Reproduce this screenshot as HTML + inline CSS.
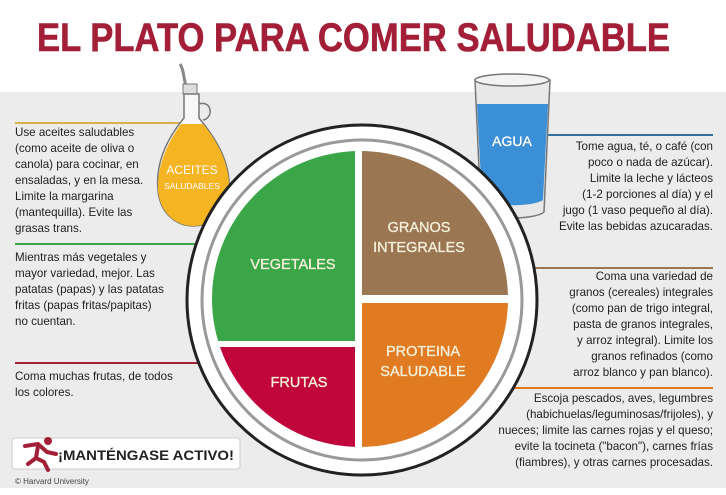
<!DOCTYPE html>
<html><head><meta charset="utf-8"><style>
html,body{margin:0;padding:0;background:#fff}
svg{display:block}
.t{font-family:"Liberation Sans",sans-serif;font-size:11.6px;fill:#1e1e1e}
.r{text-anchor:end}
.lab{font-family:"Liberation Sans",sans-serif;font-size:14.5px;fill:#f4efd8;text-anchor:middle;stroke:#f4efd8;stroke-width:0.35}
</style></head><body>
<svg width="726" height="495" viewBox="0 0 726 495" xmlns="http://www.w3.org/2000/svg">
<rect x="0" y="0" width="726" height="495" fill="#fff"/>
<rect x="0" y="92" width="726" height="396" fill="#ececec"/>
<text x="37" y="51" font-family="Liberation Sans, sans-serif" font-weight="bold" font-size="40" fill="#a31f38" stroke="#a31f38" stroke-width="0.6" textLength="633" lengthAdjust="spacingAndGlyphs">EL PLATO PARA COMER SALUDABLE</text>

<line x1="15" y1="123" x2="182" y2="123" stroke="#d6b24a" stroke-width="2"/>
<line x1="15" y1="244" x2="225" y2="244" stroke="#3aa648" stroke-width="2"/>
<line x1="15" y1="363" x2="225" y2="363" stroke="#a3223a" stroke-width="2"/>
<line x1="513" y1="135" x2="713" y2="135" stroke="#2f6e9e" stroke-width="2"/>
<line x1="500" y1="268" x2="713" y2="268" stroke="#9b7653" stroke-width="2"/>
<line x1="480" y1="388" x2="713" y2="388" stroke="#e07b22" stroke-width="2"/>

<path d="M186 86 C183 76 184 70 180 64" stroke="#888" stroke-width="3" fill="none"/>
<rect x="183" y="84" width="14" height="10" fill="#ddd" stroke="#777"/>
<path d="M184 94 L184 118 C170 135 155 160 158 190 C160 215 178 226 193 226 C210 226 228 213 229 190 C231 160 213 135 199 118 L199 94 Z" fill="#f8f8f8" stroke="#777" stroke-width="1.5"/>
<path d="M181 124 L203 124 C218 142 230 165 229 190 C228 213 210 226 193 226 C178 226 160 215 158 190 C157 165 168 142 181 124 Z" fill="#f5b522"/>
<path d="M199 104 C212 100 214 118 203 120" stroke="#777" stroke-width="1.5" fill="none"/>
<text x="192" y="174" font-family="Liberation Sans, sans-serif" font-size="12" fill="#fff" text-anchor="middle">ACEITES</text>
<text x="192" y="189" font-family="Liberation Sans, sans-serif" font-size="8.5" fill="#fff" text-anchor="middle">SALUDABLES</text>

<path d="M475 80 L481 212 C490 220 535 220 544 212 L550 80 Z" fill="#e8e8e8" stroke="#777" stroke-width="1.5"/>
<path d="M477 104 L482 200 C492 207 533 207 543 200 L548 104 Z" fill="#3b8fd6"/>
<ellipse cx="512" cy="80" rx="37" ry="6" fill="#f3f3f3" stroke="#777" stroke-width="1.5"/>
<text x="512" y="146" font-family="Liberation Sans, sans-serif" font-size="14" fill="#fff" text-anchor="middle" stroke="#fff" stroke-width="0.3">AGUA</text>

<circle cx="362" cy="300" r="175" fill="#fff" stroke="#222" stroke-width="3"/>
<circle cx="362" cy="300" r="160" fill="#fff" stroke="#999" stroke-width="3"/>
<clipPath id="c"><circle cx="360" cy="299" r="148"/></clipPath>
<g clip-path="url(#c)">
<rect x="200" y="140" width="155" height="201" fill="#3aa648"/>
<rect x="200" y="347" width="155" height="120" fill="#c0063a"/>
<rect x="362" y="140" width="160" height="155" fill="#9b7653"/>
<rect x="362" y="303" width="160" height="160" fill="#e07b22"/>
</g>
<text class="lab" x="293" y="269">VEGETALES</text>
<text class="lab" x="419" y="232">GRANOS</text>
<text class="lab" x="419" y="252">INTEGRALES</text>
<text class="lab" x="423" y="356">PROTEINA</text>
<text class="lab" x="423" y="376">SALUDABLE</text>
<text class="lab" x="299" y="387">FRUTAS</text>

<text class="t" x="15" y="136">Use aceites saludables</text>
<text class="t" x="15" y="152">(como aceite de oliva o</text>
<text class="t" x="15" y="168">canola) para cocinar, en</text>
<text class="t" x="15" y="184">ensaladas, y en la mesa.</text>
<text class="t" x="15" y="200">Limite la margarina</text>
<text class="t" x="15" y="216">(mantequilla). Evite las</text>
<text class="t" x="15" y="232">grasas trans.</text>

<text class="t" x="15" y="261">Mientras más vegetales y</text>
<text class="t" x="15" y="277">mayor variedad, mejor. Las</text>
<text class="t" x="15" y="293">patatas (papas) y las patatas</text>
<text class="t" x="15" y="309">fritas (papas fritas/papitas)</text>
<text class="t" x="15" y="325">no cuentan.</text>

<text class="t" x="15" y="380">Coma muchas frutas, de todos</text>
<text class="t" x="15" y="396">los colores.</text>

<text class="t r" x="713" y="150">Tome agua, té, o café (con</text>
<text class="t r" x="713" y="166">poco o nada de azúcar).</text>
<text class="t r" x="713" y="182">Limite la leche y lácteos</text>
<text class="t r" x="713" y="198">(1-2 porciones al día) y el</text>
<text class="t r" x="713" y="214">jugo (1 vaso pequeño al día).</text>
<text class="t r" x="713" y="230">Evite las bebidas azucaradas.</text>

<text class="t r" x="713" y="280">Coma una variedad de</text>
<text class="t r" x="713" y="296">granos (cereales) integrales</text>
<text class="t r" x="713" y="312">(como pan de trigo integral,</text>
<text class="t r" x="713" y="328">pasta de granos integrales,</text>
<text class="t r" x="713" y="344">y arroz integral). Limite los</text>
<text class="t r" x="713" y="360">granos refinados (como</text>
<text class="t r" x="713" y="376">arroz blanco y pan blanco).</text>

<text class="t r" x="713" y="402">Escoja pescados, aves, legumbres</text>
<text class="t r" x="713" y="418">(habichuelas/leguminosas/frijoles), y</text>
<text class="t r" x="713" y="434">nueces; limite las carnes rojas y el queso;</text>
<text class="t r" x="713" y="450">evite la tocineta ("bacon"), carnes frías</text>
<text class="t r" x="713" y="466">(fiambres), y otras carnes procesadas.</text>

<rect x="12" y="438" width="228" height="31" rx="3" fill="#fff" stroke="#ccc"/>
<g fill="#a31f38" stroke="#a31f38" stroke-linecap="round">
<circle cx="48" cy="441" r="4" stroke="none"/>
<path d="M25 446 L38 444 L47 452 L56 454" stroke-width="4" fill="none"/>
<path d="M38 446 L36 458 L28 464 M36 458 L44 462 L48 470" stroke-width="4" fill="none"/>
</g>
<text x="58" y="460" font-family="Liberation Sans, sans-serif" font-weight="bold" font-size="14" fill="#222" textLength="176" lengthAdjust="spacingAndGlyphs">¡MANTÉNGASE ACTIVO!</text>
<text x="15" y="484" font-family="Liberation Sans, sans-serif" font-size="8" fill="#444">© Harvard University</text>
</svg>
</body></html>
